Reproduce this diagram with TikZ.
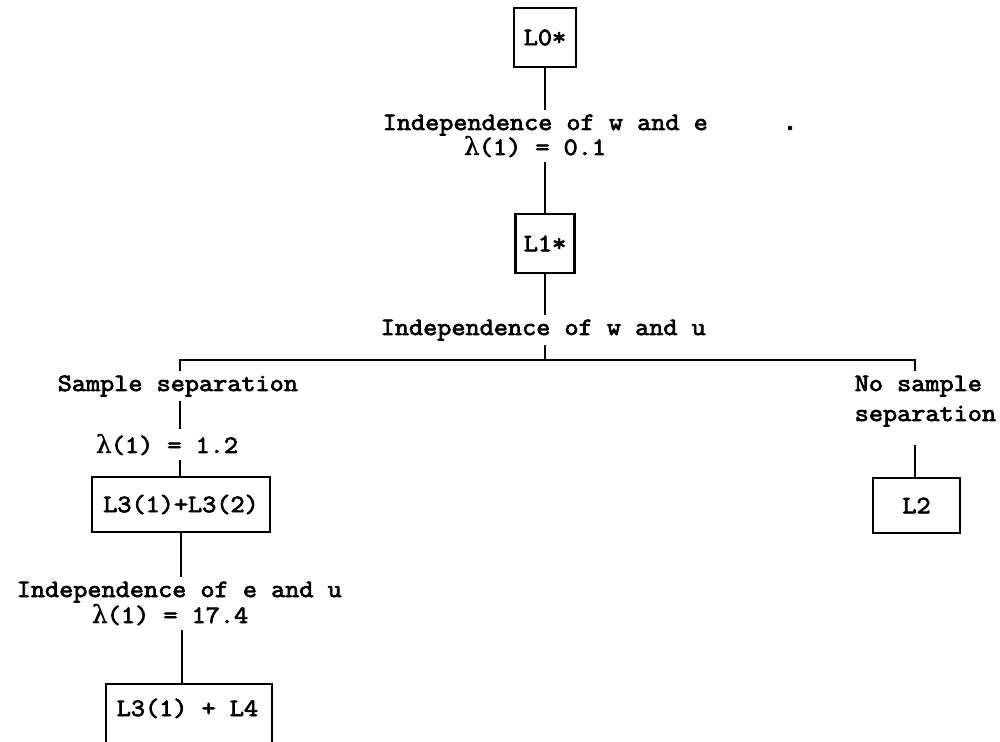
\documentclass[tikz,border=0pt]{standalone}
\usepackage{fontspec}
\newfontfamily\tw{Latin Modern Mono}[FakeStretch=1.1, FakeBold=3]
\newfontfamily\gk{DejaVu Serif}[FakeBold=1]
\newcommand\lamb{\makebox[\fontcharwd\font`0][c]{\gk λ}}
\begin{document}
\begin{tikzpicture}[x=0.02cm,y=-0.02cm,
  ln/.style={line width=1.4pt},
  bx/.style={draw, line width=1.4pt, inner sep=0pt, font=\tw\fontsize{14.2}{16}\selectfont},
  lb/.style={inner sep=2.5pt, font=\tw\fontsize{14.2}{16}\selectfont, anchor=base west}]
\path[use as bounding box] (0,0) rectangle (1000,742);
\clip (0,0) rectangle (1000,742);

\node[bx, minimum width=1.24cm, minimum height=1.18cm] (L0) at (545,37.5) {L0*};
\node[lb] (t1a) at (378,130) {Independence of w and e};
\node[lb] (t1b) at (460,155) {\lamb(1) = 0.1};
\node[bx, minimum width=1.18cm, minimum height=1.18cm] (L1) at (545,243.5) {L1*};
\node[lb] (t2) at (376,335) {Independence of w and u};
\node[lb] (s1) at (53,391) {Sample separation};
\node[lb] (n1) at (850,391) {No sample};
\node[lb] (n2) at (850,421) {separation};
\node[lb] (lam2) at (92,453) {\lamb(1) = 1.2};
\node[bx, minimum width=3.56cm, minimum height=1.1cm] (L3a) at (181,504.5) {L3(1)+L3(2)};
\node[bx, minimum width=1.74cm, minimum height=1.1cm] (L2) at (916.5,505.5) {L2};
\node[lb] (t3a) at (12,597) {Independence of e and u};
\node[lb] (t3b) at (88,623) {\lamb(1) = 17.4};
\node[bx, minimum width=3.32cm, minimum height=2cm, anchor=north] (L4) at (189,683) {};
\node[lb] (L4t) at (112,716) {L3(1) + L4};

\coordinate (jc) at (545,360);
\coordinate (jl) at (180,360);
\coordinate (jr) at (915,360);
\coordinate (c4) at (182,683);

\draw[ln] (L0.south) -- (L0.south |- t1a.north);
\draw[ln] (t1b.south -| L1.north) -- (L1.north);
\draw[ln] (L1.south) -- (L1.south |- t2.north);
\draw[ln] (t2.south -| jc) -- (jc);
\draw[ln] (s1.north -| jl) -- (jl) -- (jr) -- (n1.north -| jr);
\draw[ln] (s1.south -| jl) -- (lam2.north -| jl);
\draw[ln] (lam2.south -| jl) -- (L3a.north -| jl);
\draw[ln] (L3a.south) -- (L3a.south |- t3a.north);
\draw[ln] (t3b.south -| c4) -- (c4);
\draw[ln, shorten <=8pt] (n2.south -| jr) -- (L2.north -| jr);

\fill (790,128) circle[radius=1.3pt];
\end{tikzpicture}
\end{document}
